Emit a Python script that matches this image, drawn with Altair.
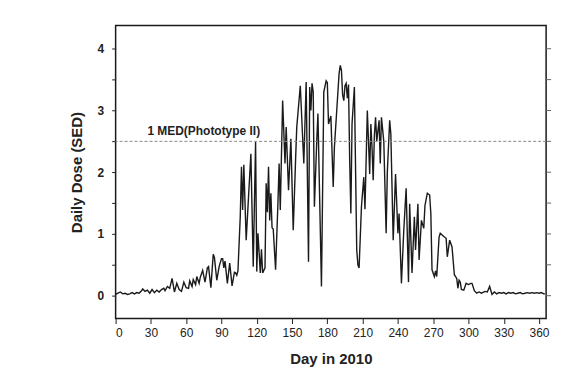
import altair as alt
import pandas as pd

days = [0, 2, 4, 6, 8, 10, 12, 14, 16, 18, 20, 22, 23, 25, 27, 29, 31, 33, 35, 37, 39, 41, 42, 44, 46, 48,
        50, 52, 54, 56, 58, 60, 62, 63, 65, 66, 68, 69, 71, 72, 74, 76, 78, 79, 81, 83, 84, 86, 88, 90,
        91, 92, 93, 95, 97, 99, 101, 102, 103, 104, 106, 107, 108, 109, 111, 113, 115, 117, 119, 120,
        121, 122, 123, 124, 125, 127, 128, 129, 130, 131, 132, 133, 134, 136, 138, 139, 140, 142, 144,
        145, 147, 149, 151, 153, 154, 157, 160, 162, 164, 165, 166, 167, 168, 169, 171, 172, 175, 177,
        179, 180, 181, 183, 185, 186, 188, 190, 191, 192, 193, 194, 195, 196, 197, 198, 199, 200, 201,
        203, 205, 206, 207, 209, 211, 212, 214, 215, 216, 217, 218, 219, 220, 221, 222, 224, 225, 226,
        228, 230, 231, 233, 234, 236, 238, 240, 241, 243, 245, 247, 249, 250, 252, 254, 255, 257, 258,
        260, 262, 263, 265, 267, 268, 269, 271, 272, 273, 275, 276, 279, 281, 282, 284, 286, 288, 290,
        291, 292, 293, 294, 296, 298, 300, 302, 303, 305, 307, 309, 311, 314, 316, 318, 320, 322, 324,
        326, 328, 330, 332, 334, 336, 338, 340, 342, 344, 346, 348, 350, 352, 354, 356, 358, 360, 362,
        364, 365]

dose = [0.02, 0.04, 0.06, 0.03, 0.04, 0.02, 0.03, 0.05, 0.03, 0.05, 0.04, 0.08, 0.11, 0.07, 0.09, 0.04,
        0.10, 0.05, 0.09, 0.06, 0.10, 0.12, 0.08, 0.15, 0.12, 0.28,
        0.06, 0.20, 0.10, 0.07, 0.22, 0.13, 0.12, 0.24, 0.15, 0.26, 0.18, 0.31, 0.20, 0.30, 0.41, 0.22,
        0.45, 0.47, 0.13, 0.67, 0.62, 0.25, 0.47, 0.60,
        0.60, 0.45, 0.56, 0.20, 0.53, 0.16, 0.38, 0.37, 0.33, 0.40, 1.30, 2.09, 1.39, 2.12, 0.90, 1.60,
        2.30, 0.47, 2.49, 0.39,
        1.01, 0.70, 0.37, 0.75, 0.37, 0.45, 1.82, 1.35, 2.09, 1.22, 1.66, 1.10, 1.08, 0.42, 1.50, 2.14,
        1.39, 3.16, 2.14,
        2.73, 1.71, 2.54, 1.06, 2.20, 2.73, 3.40, 2.14, 3.46, 0.55, 3.38, 3.00, 3.44, 3.30, 1.44, 2.50,
        2.95, 0.15, 3.30,
        3.48, 3.45, 2.78, 2.91, 1.76, 2.40, 3.00, 3.60, 3.73, 3.65, 3.25, 3.16, 3.40, 3.44, 3.20, 3.42,
        2.20, 1.33, 2.78,
        3.38, 0.74, 0.50, 0.45, 1.44, 1.92, 1.40, 3.00, 2.50, 1.97, 2.78, 2.40, 1.87, 2.60, 2.89, 2.50,
        2.84, 2.14, 2.89,
        2.50, 1.01, 2.00, 2.84, 2.62, 0.90, 1.97, 1.01, 1.33, 0.20, 1.06, 1.74, 0.22, 1.49, 0.37, 1.28,
        0.74, 1.49, 0.58,
        1.22, 1.09, 1.46, 1.66, 1.63, 1.33, 0.42, 0.31, 0.40, 0.31, 0.95, 1.01, 0.96, 0.93, 0.63, 0.90,
        0.79, 0.34, 0.28,
        0.12, 0.25, 0.22, 0.10, 0.09, 0.20, 0.18, 0.20, 0.20, 0.08, 0.04, 0.06, 0.04, 0.07, 0.06, 0.15,
        0.02, 0.06, 0.03,
        0.05, 0.04, 0.05, 0.03, 0.05, 0.04, 0.05, 0.03, 0.04, 0.05, 0.03, 0.04, 0.05, 0.04, 0.05, 0.04,
        0.05, 0.04, 0.05,
        0.03, 0.03]

x_ticks = [0, 30, 60, 90, 120, 150, 180, 210, 240, 270, 300, 330, 360]
y_ticks = [0, 0.5, 1, 1.5, 2, 2.5, 3, 3.5, 4]
med_level = [2.5]
med_label = ["1 MED(Phototype II)"]
med_label_day = [27]

df = pd.DataFrame({"day": days, "dose": dose})
ref = pd.DataFrame({"day": med_label_day, "dose": med_level, "label": med_label})
rticks = pd.DataFrame({"dose": y_ticks})

xscale = alt.Scale(domain=[0, 366], nice=False, zero=False)
yscale = alt.Scale(domain=[-0.37, 4.375], nice=False, zero=False)

xaxis = alt.Axis(values=x_ticks, title="Day in 2010", grid=False, domain=False,
                 tickSize=5, tickColor="#222", labelFont="Liberation Sans",
                 labelFontSize=12, labelColor="#222", labelPadding=4,
                 titleFont="Liberation Sans", titleFontSize=15, titleFontWeight="bold",
                 titleColor="#222", titlePadding=13)
yaxis = alt.Axis(values=y_ticks, title="Daily Dose (SED)", grid=False, domain=False,
                 orient="left", tickSize=4, tickColor="#222",
                 labelExpr="datum.value % 1 == 0 ? format(datum.value, 'd') : ''",
                 labelFont="Liberation Sans", labelFontSize=12, labelFontWeight="bold",
                 labelColor="#222", labelPadding=8,
                 titleFont="Liberation Sans", titleFontSize=15, titleFontWeight="bold",
                 titleColor="#222", titlePadding=13)

X = alt.X("day:Q", scale=xscale, axis=xaxis)
Y = alt.Y("dose:Q", scale=yscale, axis=yaxis)

line = alt.Chart(df).mark_line(color="#1a1a1a", strokeWidth=1.4).encode(x=X, y=Y)

right_ticks = alt.Chart(rticks).mark_rule(color="#666666", strokeWidth=1).encode(
    x=alt.value(432), x2=alt.value(437), y=Y,
)

rule = alt.Chart(ref).mark_rule(color="#888888", strokeDash=[3, 2], strokeWidth=1).encode(y=Y)

text = alt.Chart(ref).mark_text(align="left", baseline="bottom", dy=-3, font="Liberation Sans",
                                fontSize=12, fontWeight="bold", color="#222").encode(
    x=X, y=Y, text="label:N",
)

chart = alt.layer(line, right_ticks, rule, text).properties(
    width=432, height=294,
    padding={"left": 108, "top": 17, "right": 30, "bottom": 50},
    autosize="none",
).configure_view(stroke="#1a1a1a", strokeWidth=1.5)

chart.save("out.html", embed_options={"renderer": "svg", "actions": False})
